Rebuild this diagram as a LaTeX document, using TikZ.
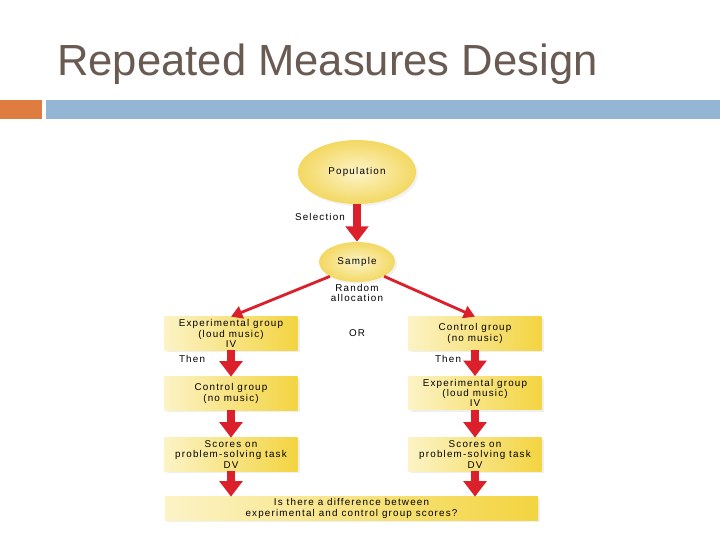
\documentclass[tikz,border=0pt]{standalone}
\usepackage{fontspec}
\setmainfont{Liberation Sans}
\newfontfamily\diagfont[LetterSpace=12]{Liberation Sans}
\usepackage{tikz}
\usetikzlibrary{arrows.meta,positioning,shadows,shapes.geometric}

\definecolor{titlegray}{HTML}{695A52}
\definecolor{barorange}{HTML}{DF7C40}
\definecolor{barblue}{HTML}{94B5D3}
\definecolor{boxlight}{HTML}{FCF3C6}
\definecolor{boxdark}{HTML}{F3D440}
\definecolor{ellinner}{HTML}{FDF4C8}
\definecolor{ellouter}{HTML}{F3D862}
\definecolor{arrowred}{HTML}{DB1F2B}

\begin{document}
\begin{tikzpicture}[
    x=0.025cm, y=-0.025cm,
    groupbox/.style={
        rectangle,
        align=center,
        inner ysep=0.5pt,
        minimum width=3.325cm,
        minimum height=0.83cm,
        left color=boxlight,
        right color=boxdark,
        drop shadow={shadow xshift=1.5pt, shadow yshift=-1.5pt, fill=black!12},
        font=\diagfont\fontsize{7}{7.2}\selectfont
    },
    widebox/.style={
        groupbox,
        minimum width=9.325cm,
        minimum height=0.58cm
    },
    blob/.style={
        ellipse,
        inner color=ellinner,
        outer color=ellouter,
        drop shadow={shadow xshift=1.5pt, shadow yshift=-1.5pt, fill=black!10},
        font=\diagfont\fontsize{7}{7.2}\selectfont
    },
    note/.style={
        align=center,
        inner sep=0pt,
        font=\diagfont\fontsize{7}{7.5}\selectfont
    },
    bigarrow/.style={-{Triangle[width=16pt,length=11pt]}, line width=6pt, arrowred},
    thinarrow/.style={-{Triangle[width=9pt,length=8pt]}, line width=2pt, arrowred}
]
\useasboundingbox (0,0) rectangle (720,540);

% Title and header bars
\node[anchor=base west, inner sep=0pt, text=titlegray, font=\fontsize{31}{34}\selectfont] (title) at (57,75) {Repeated Measures Design};
\fill[barorange] (0,100) rectangle (42,119);
\fill[barblue] (46,100) rectangle (720,119);

% Top: population and sample
\node[blob, minimum width=2.95cm, minimum height=1.6cm] (population) at (357,172) {Population};
\node[blob, minimum width=1.9cm, minimum height=1.0cm] (sample) at (357,262) {Sample};
\node[note] (selection) at (320,217) {Selection};
\node[note] (random) at (357,293) {Random\\allocation};

% Left column
\node[groupbox] (leftexp) at (231,333.5) {Experimental group\\(loud music)\\IV};
\node[groupbox] (leftctrl) at (231,393.5) {Control group\\(no music)};
\node[groupbox] (leftscore) at (231,454.5) {Scores on\\problem-solving task\\DV};
\node[note] (leftthen) at (192,359) {Then};

% Right column
\node[groupbox] (rightctrl) at (475,333.5) {Control group\\(no music)};
\node[groupbox] (rightexp) at (475,393) {Experimental group\\(loud music)\\IV};
\node[groupbox] (rightscore) at (475,454.5) {Scores on\\problem-solving task\\DV};
\node[note] (rightthen) at (448,359) {Then};

\node[note] (or) at (357,333) {OR};

% Bottom question
\node[widebox] (question) at (351.5,508.5) {Is there a difference between\\experimental and control group scores?};

% Arrows
\draw[bigarrow] (population.south) -- (sample.north);
\draw[thinarrow] (sample.south west) -- (leftexp.north);
\draw[thinarrow] (sample.south east) -- (rightctrl.north);

\draw[bigarrow] (leftexp) -- (leftctrl);
\draw[bigarrow] (leftctrl) -- (leftscore);
\draw[bigarrow] (leftscore.south) -- (leftscore.south |- question.north);

\draw[bigarrow] (rightctrl) -- (rightexp);
\draw[bigarrow] (rightexp) -- (rightscore);
\draw[bigarrow] (rightscore.south) -- (rightscore.south |- question.north);

\end{tikzpicture}
\end{document}
